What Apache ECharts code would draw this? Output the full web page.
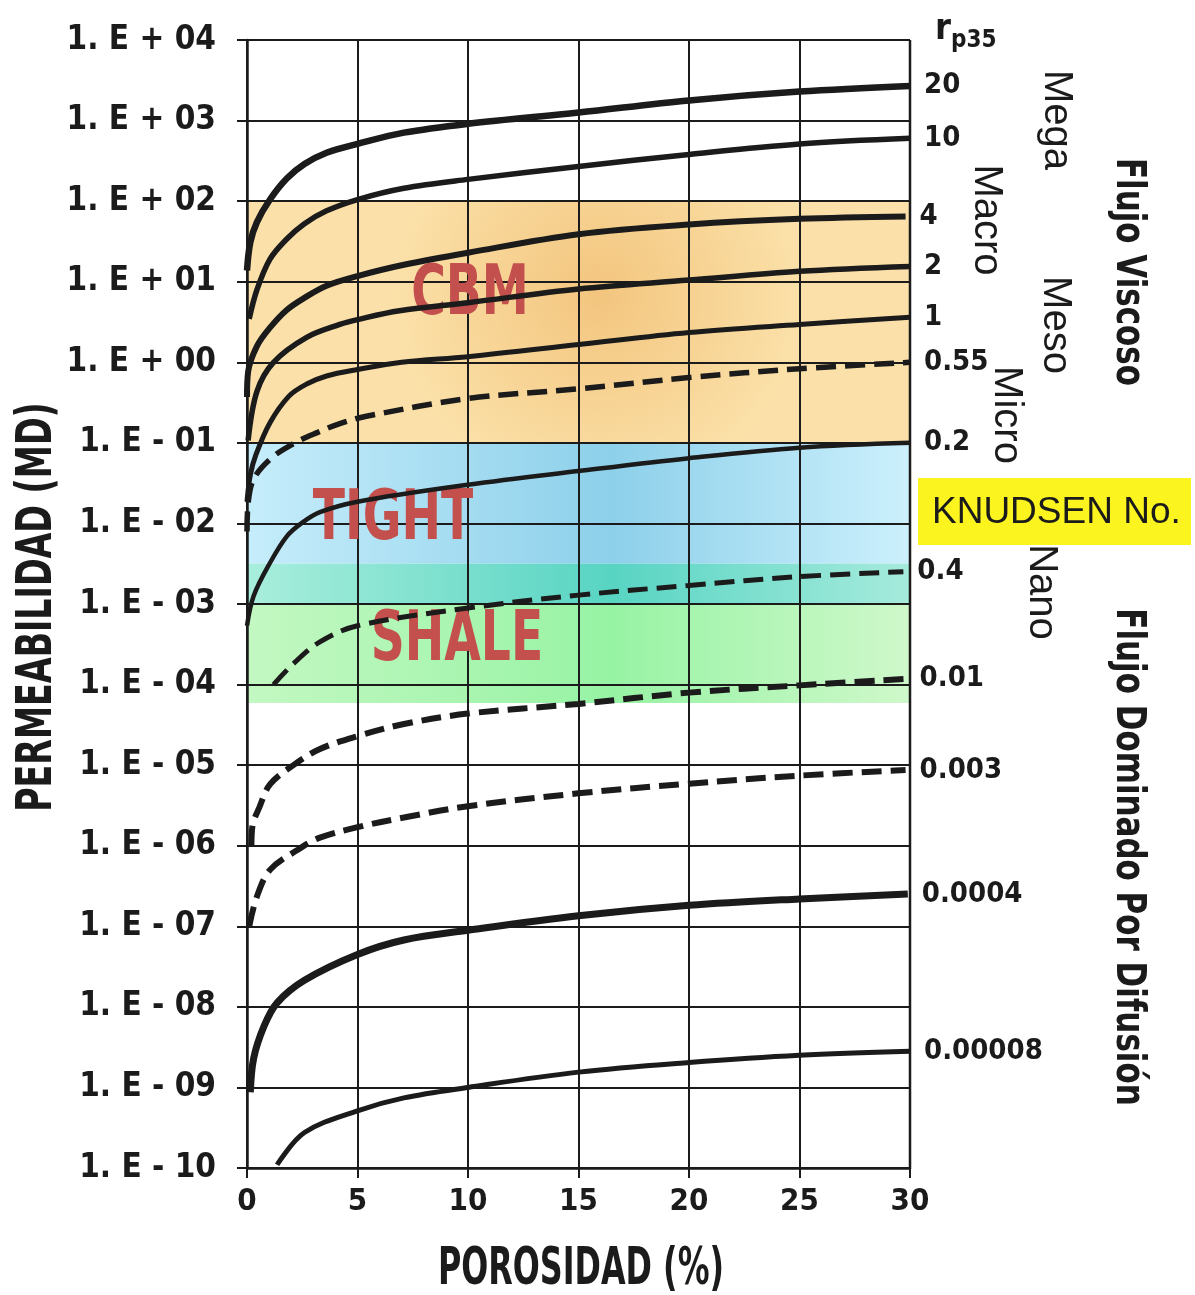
<!DOCTYPE html>
<html>
<head>
<meta charset="utf-8">
<script src="https://cdn.jsdelivr.net/npm/echarts@6/dist/echarts.min.js"></script>
<style>
html,body{margin:0;padding:0;background:#fff;}
#chart{width:1195px;height:1295px;}
</style>
</head>
<body>
<div id="chart"></div>
<script>
// ---------------- DATA (porosity %, log10 permeability mD) ----------------
const r35Labels = ['20', '10', '4', '2', '1', '0.55', '0.2', '0.4', '0.01', '0.003', '0.0004', '0.00008'];

const phi_r20 = [0, 0.15, 0.45, 1.04, 1.8, 2.6, 3.6, 5, 7.1, 10, 15, 20, 25, 30];
const logk_r20 = [1.14, 1.49, 1.74, 2.02, 2.28, 2.46, 2.6, 2.71, 2.85, 2.96, 3.1, 3.25, 3.36, 3.43];

const phi_r10 = [0.1, 0.45, 1.04, 1.8, 2.6, 3.6, 5, 7.1, 10, 15, 20, 25, 30];
const logk_r10 = [0.54, 0.9, 1.28, 1.53, 1.72, 1.88, 2.02, 2.16, 2.27, 2.43, 2.58, 2.71, 2.78];

const phi_r4 = [0, 0.05, 0.45, 1.04, 1.8, 2.6, 3.6, 5, 7.1, 10, 15, 20, 25, 29.8];
const logk_r4 = [-0.43, -0.12, 0.2, 0.43, 0.65, 0.8, 0.95, 1.07, 1.21, 1.36, 1.59, 1.71, 1.78, 1.81];

const phi_r2 = [0.05, 0.45, 1.2, 2.7, 4.2, 5, 6.9, 10, 15, 20, 25, 30];
const logk_r2 = [-0.97, -0.36, 0.0, 0.31, 0.47, 0.53, 0.64, 0.74, 0.91, 1.02, 1.13, 1.19];

const phi_r1 = [0, 0.15, 0.4, 1.04, 1.9, 2.7, 3.6, 5, 7, 10, 15, 20, 25, 30];
const logk_r1 = [-1.73, -1.4, -1.15, -0.75, -0.42, -0.27, -0.17, -0.09, 0.0, 0.07, 0.22, 0.37, 0.47, 0.56];

const phi_r055 = [0, 0.05, 0.3, 1.1, 2.1, 3.2, 4.2, 5.4, 10, 15, 20, 25, 30];
const logk_r055 = [-2.1, -1.75, -1.45, -1.19, -1.01, -0.87, -0.76, -0.67, -0.45, -0.33, -0.19, -0.08, 0.0];

const phi_r02 = [0, 0.3, 1.04, 1.8, 2.5, 3.3, 5, 10, 15, 20, 25, 30];
const logk_r02 = [-3.27, -2.9, -2.49, -2.16, -1.99, -1.86, -1.73, -1.52, -1.35, -1.19, -1.06, -1.0];

const phi_r04 = [1.2, 2.1, 3.3, 5, 10, 15, 20, 25, 29.7];
const logk_r04 = [-4.0, -3.74, -3.47, -3.27, -3.05, -2.89, -2.77, -2.66, -2.6];

const phi_r001 = [0.2, 0.25, 0.55, 1.04, 2.1, 3.3, 5, 7.1, 10, 15, 20, 25, 29.8];
const logk_r001 = [-6.0, -5.75, -5.53, -5.24, -5.0, -4.8, -4.64, -4.49, -4.36, -4.24, -4.1, -4.01, -3.93];

const phi_r0003 = [0.1, 0.45, 1.04, 2.3, 3.3, 5, 7.1, 10, 15, 20, 25, 29.8];
const logk_r0003 = [-7.0, -6.63, -6.3, -6.05, -5.9, -5.77, -5.65, -5.51, -5.35, -5.23, -5.13, -5.06];

const phi_r00004 = [0.15, 0.3, 0.77, 1.36, 2.6, 5, 7.1, 10, 15, 20, 25, 29.9];
const logk_r00004 = [-9.06, -8.64, -8.24, -7.95, -7.67, -7.35, -7.17, -7.05, -6.87, -6.74, -6.66, -6.6];

const phi_r000008 = [1.36, 2.6, 5, 7.1, 10, 15, 20, 25, 30];
const logk_r000008 = [-9.96, -9.56, -9.29, -9.13, -9.0, -8.81, -8.69, -8.6, -8.55];

// shaded bands (log10 permeability limits)
const bandNames = ['CBM', 'TIGHT', 'TIGHT/SHALE', 'SHALE'];
const bandTopLog = [2, -1, -2.5, -3];
const bandBottomLog = [-1, -2.5, -3, -4.23];

const xTicks = [0, 5, 10, 15, 20, 25, 30];

// ---------------- STYLE ----------------
const COND = "'Liberation Sans Narrow','DejaVu Sans Condensed','Roboto Condensed','Arial Narrow',sans-serif";
const REG = "'Liberation Sans',Arial,sans-serif";
const INK = '#1b1b1b';

const curvePhi = [phi_r20, phi_r10, phi_r4, phi_r2, phi_r1, phi_r055, phi_r02, phi_r04, phi_r001, phi_r0003, phi_r00004, phi_r000008];
const curveLog = [logk_r20, logk_r10, logk_r4, logk_r2, logk_r1, logk_r055, logk_r02, logk_r04, logk_r001, logk_r0003, logk_r00004, logk_r000008];
const curveWidth = [6.5, 5.5, 6, 5.5, 5, 5.5, 4.5, 5, 6, 6, 7, 5];
const curveDashed = [false, false, false, false, false, true, false, true, true, true, false, false];

function radial(cx, cy, r, inner, outer) {
  return { type: 'radial', x: cx, y: cy, r: r, colorStops: [{ offset: 0, color: inner }, { offset: 1, color: outer }] };
}
function linear3(a, b, c) {
  return { type: 'linear', x: 0, y: 0, x2: 1, y2: 0, colorStops: [{ offset: 0, color: a }, { offset: 0.55, color: b }, { offset: 1, color: c }] };
}
const bandColors = [
  radial(0.53, 0.38, 0.85, '#F3C57E', '#FBE1A9'),
  linear3('#C6EDFB', '#8DD0EA', '#CCF0FC'),
  linear3('#A9EEDC', '#58D4C3', '#A6EBDC'),
  linear3('#C3F8C2', '#97F3A4', '#CFF8CA')
];

const series = [];
series.push({
  type: 'line', name: 'bands', data: [], z: 1, silent: true,
  markArea: {
    silent: true,
    label: { show: false },
    data: bandNames.map((n, i) => [
      { yAxis: Math.pow(10, bandTopLog[i]), itemStyle: { color: bandColors[i] } },
      { yAxis: Math.pow(10, bandBottomLog[i]) }
    ])
  }
});
r35Labels.forEach((lab, i) => {
  series.push({
    type: 'line',
    name: lab,
    z: 5,
    smooth: 0.35,
    showSymbol: false,
    symbol: 'none',
    silent: true,
    clip: false,
    data: curvePhi[i].map((p, j) => [p, Math.pow(10, curveLog[i][j])]),
    lineStyle: {
      color: INK,
      width: curveWidth[i],
      type: curveDashed[i] ? [20, 9] : 'solid',
      cap: 'butt'
    },
    endLabel: {
      show: true,
      formatter: lab,
      distance: 14,
      color: INK,
      fontFamily: COND,
      fontWeight: 'bold',
      fontSize: 29
    }
  });
});

function expLabel(v) {
  const e = Math.round(Math.log10(v));
  const s = e >= 0 ? '+' : '-';
  const a = Math.abs(e);
  return '1. E ' + s + ' ' + (a < 10 ? '0' + a : '' + a);
}

function vtext(x, y, text, font, size, weight, sx) {
  return {
    type: 'text', x: x, y: y, rotation: -Math.PI / 2, scaleX: sx || 1, z: 10,
    style: { text: text, x: 0, y: 0, align: 'center', verticalAlign: 'middle', fill: INK,
      fontFamily: font, fontSize: size, fontWeight: weight }
  };
}
function bigText(x, y, text) {
  return {
    type: 'text', x: x, y: y, z: 4, scaleX: 0.75,
    style: { text: text, x: 0, y: 0, align: 'center', verticalAlign: 'middle', fill: '#C4504D',
      fontFamily: COND, fontSize: 70, fontWeight: 'bold' }
  };
}

const option = {
  animation: false,
  backgroundColor: '#ffffff',
  grid: { left: 247, right: 285, top: 40, bottom: 127, containLabel: false },
  xAxis: {
    type: 'value', min: 0, max: 30, interval: 5, z: 3,
    axisLine: { show: true, onZero: false, lineStyle: { color: INK, width: 2.5 } },
    axisTick: { show: true, length: 10, inside: false, lineStyle: { color: INK, width: 2 } },
    splitLine: { show: true, lineStyle: { color: INK, width: 2 } },
    axisLabel: { margin: 18, color: INK, fontFamily: COND, fontWeight: 'bold', fontSize: 31,
      formatter: v => (xTicks.indexOf(v) >= 0 ? String(v) : '') }
  },
  yAxis: {
    type: 'log', logBase: 10, min: 1e-10, max: 1e4, interval: 1, z: 3,
    axisLine: { show: true, onZero: false, lineStyle: { color: INK, width: 2.5 } },
    axisTick: { show: true, length: 10, inside: false, lineStyle: { color: INK, width: 2 } },
    minorTick: { show: false },
    splitLine: { show: true, lineStyle: { color: INK, width: 2 } },
    axisLabel: { margin: 31, color: INK, fontFamily: COND, fontWeight: 'bold', fontSize: 33, formatter: expLabel }
  },
  series: series,
  graphic: [
    // right border
    { type: 'line', z: 3, shape: { x1: 910, y1: 40, x2: 910, y2: 1168 }, style: { stroke: INK, lineWidth: 2.5 } },
    bigText(470, 296, 'CBM'),
    bigText(393, 521, 'TIGHT'),
    bigText(457, 642, 'SHALE'),
    // axis titles
    {
      type: 'text', x: 581, y: 1270, z: 10, scaleX: 0.68,
      style: { text: 'POROSIDAD (%)', x: 0, y: 0, align: 'center', verticalAlign: 'middle', fill: INK,
        fontFamily: COND, fontSize: 52, fontWeight: 'bold' }
    },
    {
      type: 'text', x: 38, y: 607, z: 10, rotation: Math.PI / 2, scaleX: 0.74,
      style: { text: 'PERMEABILIDAD (MD)', x: 0, y: 0, align: 'center', verticalAlign: 'middle', fill: INK,
        fontFamily: COND, fontSize: 50, fontWeight: 'bold' }
    },
    {
      type: 'text', x: 935, y: 30, z: 10,
      style: {
        text: '{r|r}{s|p35}', x: 0, y: 0, align: 'left', verticalAlign: 'middle',
        rich: {
          r: { fontFamily: COND, fontWeight: 'bold', fontSize: 36, fill: INK, color: INK },
          s: { fontFamily: COND, fontWeight: 'bold', fontSize: 24, fill: INK, color: INK, padding: [22, 0, 0, 0] }
        }
      }
    },
    vtext(1056, 120, 'Mega', REG, 40, 'normal'),
    vtext(986, 220, 'Macro', REG, 40, 'normal'),
    vtext(1055, 325, 'Meso', REG, 40, 'normal'),
    vtext(1006, 415, 'Micro', REG, 40, 'normal'),
    vtext(1041, 592, 'Nano', REG, 40, 'normal'),
    vtext(1127, 272, 'Flujo Viscoso', COND, 40, 'bold', 0.86),
    vtext(1127, 857, 'Flujo Dominado Por Difusión', COND, 40, 'bold', 0.86),
    { type: 'rect', z: 9, shape: { x: 918, y: 478, width: 273, height: 67 }, style: { fill: '#FBF41E' } },
    {
      type: 'text', x: 932, y: 513, z: 10,
      style: { text: 'KNUDSEN No.', x: 0, y: 0, align: 'left', verticalAlign: 'middle', fill: INK,
        fontFamily: REG, fontSize: 37, fontWeight: 'normal' }
    }
  ]
};

const chart = echarts.init(document.getElementById('chart'), null, { renderer: 'canvas' });
chart.setOption(option);
</script>
</body>
</html>
